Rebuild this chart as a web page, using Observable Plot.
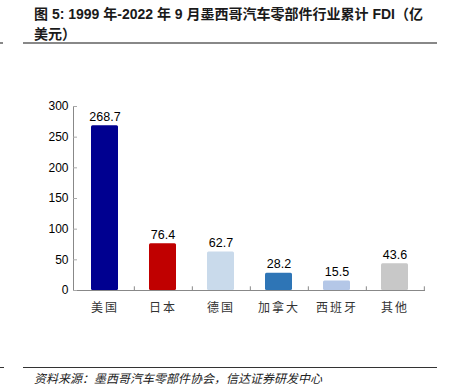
<!DOCTYPE html>
<html><head><meta charset="utf-8">
<script src="https://cdn.jsdelivr.net/npm/d3@7"></script>
<script src="https://cdn.jsdelivr.net/npm/@observablehq/plot@0.6"></script>
<style>
html,body{margin:0;padding:0;background:#fff;}
#wrap{position:relative;width:451px;height:387px;overflow:hidden;font-family:"Noto Sans CJK SC",sans-serif;}
.title{position:absolute;left:34px;font-weight:bold;font-size:14px;color:#1a1a1a;white-space:nowrap;line-height:20px;font-family:Arial,"Liberation Sans","Noto Sans CJK SC",sans-serif;}
.rule{position:absolute;}
#chart{position:absolute;left:0;top:50px;}
#chart g[aria-label="x-axis tick label"] text{letter-spacing:2px;}
.foot{position:absolute;left:34px;top:370px;font-size:12px;font-style:italic;color:#222;white-space:nowrap;line-height:16px;}
</style></head>
<body><div id="wrap">
<div class="title" style="top:4px">图 5: 1999 年-2022 年 9 月墨西哥汽车零部件行业累计 FDI（亿</div>
<div class="title" style="top:24px">美元）</div>
<div class="rule" style="left:0;top:42px;width:3px;height:2px;background:#888"></div>
<div class="rule" style="left:23px;top:42px;width:414px;height:2px;background:#888"></div>
<div id="chart"></div>
<div class="rule" style="left:0;top:367px;width:4px;height:1px;background:#333"></div>
<div class="rule" style="left:23px;top:367px;width:414px;height:1px;background:#333"></div>
<div class="foot">资料来源：墨西哥汽车零部件协会，信达证券研发中心</div>
</div>
<script>
const categories = ["美国","日本","德国","加拿大","西班牙","其他"];
const values = [268.7, 76.4, 62.7, 28.2, 15.5, 43.6];
const colors = ["#000090","#C00000","#C9DAEB","#2E75B6","#B4C7E7","#C8C8C8"];
const yTicks = [0,50,100,150,200,250,300];

const data = categories.map((c,i)=>({cat:c, value:values[i], color:colors[i]}));
const step = (451 - 73 - 26) / categories.length;

const chart = Plot.plot({
  width: 451,
  height: 270,
  marginLeft: 73,
  marginRight: 26,
  marginTop: 56,
  marginBottom: 30,
  style: {fontFamily: "Arial, 'Liberation Sans', sans-serif", fontSize: "12px", color: "#000", background: "transparent"},
  x: {domain: categories, paddingInner: 0.54, paddingOuter: 0.27, label: null},
  y: {domain: [0,300], ticks: yTicks, label: null},
  marks: [
    Plot.barY(data, {x: "cat", y: "value", fill: "color", rx: 1.5}),
    Plot.ruleY([0], {stroke: "#888", strokeWidth: 1}),
    Plot.frame({anchor: "left", stroke: "#888"}),
    Plot.ruleX(categories, {x: d => d, dx: step/2, y1: 0, y2: 6, stroke: "#888"}),
    Plot.axisY({ticks: yTicks, tickSize: -4, tickPadding: 9, fontSize: 12, label: null, fill: "#000", stroke: "#aaa"}),
    Plot.axisX({tickSize: 0, tickPadding: 13, fontSize: 12, label: null, fontFamily: "'Noto Sans CJK SC', sans-serif", fill: "#333"}),
    Plot.text(data, {x: "cat", y: "value", text: d => d.value.toFixed(1), dy: -9, fontSize: 12.5, fill: "#000"})
  ]
});
document.getElementById("chart").appendChild(chart);
</script>
</body></html>
